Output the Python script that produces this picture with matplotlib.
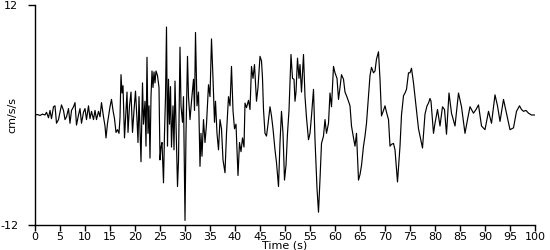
import matplotlib
matplotlib.use("Agg")
import matplotlib.pyplot as plt

time_s = [0, 0.5, 1, 1.5, 2, 2.3, 2.7, 3, 3.3, 3.7, 4, 4.3, 4.7, 5.3, 5.7, 6, 6.3, 6.7, 7, 7.3,
          7.7, 8, 8.3, 8.7, 9, 9.3, 9.7, 10, 10.3, 10.7, 11, 11.3, 11.7, 12, 12.3, 12.7, 13, 13.3,
          13.7, 14, 14.2, 14.5,
          15.0, 15.3, 15.6, 15.9, 16.2, 16.5, 16.8, 17.0, 17.2, 17.4, 17.6, 17.9, 18.1, 18.4, 18.6,
          18.9, 19.2, 19.5, 19.8, 20.1, 20.4, 20.6, 20.8, 21.0, 21.2, 21.5, 21.7, 22.0, 22.2, 22.4,
          22.6, 22.8, 23.0, 23.2, 23.4, 23.6, 23.8, 24.0, 24.2, 24.5, 24.8, 25.0, 25.2, 25.4, 25.7,
          25.9, 26.1, 26.3, 26.5, 26.7, 26.9, 27.1, 27.3, 27.6, 27.8, 28.0, 28.2, 28.5, 28.7, 29.0,
          29.2, 29.5, 29.7, 30.0, 30.2, 30.5, 30.7, 31.0, 31.3, 31.7, 31.9, 32.1, 32.4, 32.7, 33.0,
          33.2, 33.4, 33.7, 34.0, 34.3, 34.7, 35.0, 35.3, 35.6, 35.9, 36.1, 36.4, 36.7, 37.0, 37.3,
          37.6, 38.0, 38.3, 38.7, 39.0, 39.3, 39.6, 39.9, 40.2, 40.6, 40.9, 41.2, 41.5, 41.8, 42.0,
          42.3, 42.7, 43.0, 43.3, 43.6, 43.9, 44.3, 44.6, 45.0, 45.3, 45.5, 45.7, 46.0, 46.3, 46.6,
          47.0, 47.3, 47.6, 48.0, 48.3, 48.7, 49.0, 49.3, 49.6, 49.9, 50.2, 50.5, 50.8, 51.2, 51.5,
          51.8, 52.0, 52.2, 52.5, 52.8, 53.0, 53.3, 53.7, 54.0, 54.3, 54.7, 55.0, 55.3, 55.7, 56.0,
          56.4, 56.7, 57.0, 57.3, 57.7, 58.0, 58.3, 58.7, 59.0, 59.3, 59.7, 60.0, 60.4, 60.7, 61.0,
          61.3, 61.7, 62.0, 62.3, 62.7, 63.0, 63.3, 63.7, 64.0, 64.3, 64.7, 65.0, 65.3, 65.7, 66.0,
          66.3, 66.7, 67.0, 67.3, 67.7, 68.0, 68.3, 68.7, 69.0, 69.3, 69.7, 70.0, 70.3, 70.7, 71.0,
          71.3, 71.7, 72.0, 72.5, 73.0, 73.3, 73.7, 74.0, 74.3, 74.7, 75.0, 75.3, 75.7, 76.0, 76.3,
          76.7, 77.0, 77.5, 78.0, 78.4, 78.7, 79.0, 79.2, 79.7, 80.0, 80.5, 81.0, 81.5, 81.9, 82.3,
          82.8, 83.3, 84.0, 84.7, 85.3, 86.0, 86.5, 87.0, 87.7, 88.2, 88.7, 89.3, 90.0, 90.7, 91.3,
          92.0, 92.5, 93.0, 93.7, 94.3, 95.0, 95.7, 96.3, 96.9, 97.3, 97.7, 98.2, 98.7, 99.3, 100.0]

accel = [0, 0.05, -0.05, 0.1, 0, 0.3, -0.3, 0.5, -0.4, 0.9, 1.0, -0.9, -0.5, 1.1, 0.5, -0.5, -0.2, 0.7, -0.9, 0.5,
         0.9, 1.35, -1.1, 0, 0.7, -0.9, 0.3, 0.7, -0.5, 1.0, -0.4, 0.4, -0.5, 0.5, -0.5, 0.4, -0.2, 1.35,
         -0.2, -1.2, -2.5, -0.9,
         0.9, 1.7, 0.5, -0.4, -1.9, -1.6, -2.0, -0.3, 4.4, 2.4, 3.2, -2.5, -0.5, 2.5, -1.9,
         1.0, 2.5, -1.9, 0.5, 2.6, -0.5, -3.0, 2.0, -1.5, -5.1, 3.5, -1.0, 1.5, -3.4, 6.3,
         -2.0, 1.0, -4.7, 2.0, 4.8, 3.0, 4.7, 3.5, 4.8, 4.3, 3.0, -4.9, -3.5, -3.0, -7.4,
         -2.0, 2.0, 9.6, -3.4, 3.9, -1.0, 3.1, -3.5, 1.0, -3.8, 3.7, -1.0, -7.8, -5.0, 7.4,
         1.0, -0.8, 2.0, -11.5, -2.0, 6.4, 2.0, -0.5, 1.5, 3.9, 0.5, 9.0, 1.0, 2.5, -5.6,
         -2.0, -4.5, -0.5, -3.0, -1.0, 3.3, 2.0, 8.3, 4.0, -0.8, 1.5, -2.0, -3.8, -0.5, -1.5,
         -4.9, -6.3, -2.0, 2.0, 1.0, 5.3, 0.5, -1.5, -1.0, -6.6, -3.0, -4.0, -2.5, -3.5, 1.3,
         0.8, 1.6, 0.6, 5.3, 4.0, 5.5, 1.5, 3.0, 6.4, 5.9, 4.0, 0.6, -2.0, -2.3, -1.0,
         0.9, -0.1, -1.5, -3.8, -5.2, -7.8, -3.0, 0.4, -2.0, -7.1, -5.5, -2.0, 0.5, 6.6, 4.0,
         3.9, 1.5, 2.5, 6.2, 4.0, 5.5, 2.5, 6.6, 2.0, -0.3, -2.7, -2.0, -0.1, 2.8, -2.7,
         -8.0, -10.6, -7.0, -3.1, -2.3, -0.5, -2.0, -0.9, 2.4, 0.9, 5.3, 4.6, 4.0, 1.7, 3.0,
         4.4, 3.9, 2.5, 2.1, 1.5, 1.0, -1.2, -2.5, -3.4, -2.0, -7.1, -6.5, -5.5, -3.4, -2.3,
         -0.9, 2.1, 4.3, 5.2, 4.6, 4.8, 6.1, 6.9, 3.9, -0.1, 0.5, 1.0, 0.3, -0.5, -3.4,
         -3.2, -3.1, -3.8, -7.3, -3.4, 0.0, 2.1, 2.4, 2.8, 4.6, 4.6, 5.1, 3.5, 2.0, 0.6,
         -1.5, -2.3, -3.6, 0.1, 1.0, 1.3, 1.8, 1.5, -2.0, -0.9, 0.6, -1.2, 0.9, 0.6, -2.1,
         2.4, 0.2, -1.2, 2.4, 0.9, -2.0, -0.5, 0.9, 0.2, 0.6, 1.1, -1.2, -1.6, 0.4, -0.9,
         2.2, 1.0, -0.7, 1.7, 0.2, -1.6, -1.4, 0.4, 1.0, 0.6, 0.4, 0.5, 0.2, 0.0, 0.0]

x_ticks = list(range(0, 101, 5))
y_ticks = [-12, 12]
y_tick_labels = ["-12", "12"]

fig = plt.figure(figsize=(5.5, 2.5), dpi=100)
ax = fig.add_axes([35/550, 25/250, 500/550, 220/250])
ax.plot(time_s, accel, color="black", linewidth=0.85)
ax.set_xlim(0, 100)
ax.set_ylim(-12, 12)
ax.set_xticks(x_ticks)
ax.set_xticklabels([str(t) for t in x_ticks])
ax.set_yticks(y_ticks)
ax.set_yticklabels(y_tick_labels)
for s in ["top", "right"]:
    ax.spines[s].set_visible(False)
for s in ["left", "bottom"]:
    ax.spines[s].set_linewidth(1.0)
ax.tick_params(axis="x", labelsize=8, length=4, width=1, pad=1, direction="out")
ax.tick_params(axis="y", labelsize=8, length=5, width=1, pad=7, direction="out")
ax.set_xlabel("Time (s)", fontsize=8, labelpad=-1)
ax.set_ylabel("cm/s/s", fontsize=8)
ax.yaxis.set_label_coords(-0.036, 0.5)
fig.savefig("out.png", dpi=100)
